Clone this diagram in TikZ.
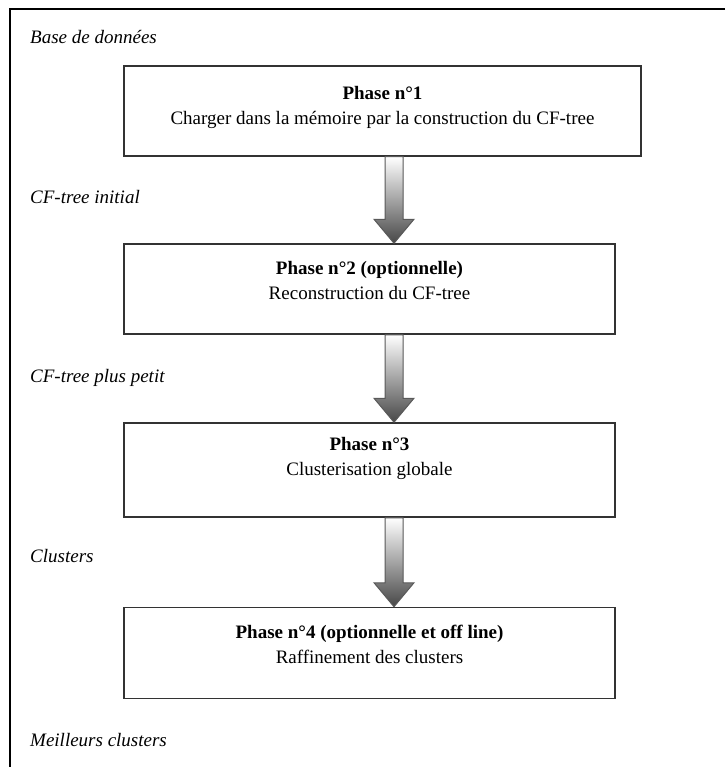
\documentclass[tikz,border=0pt]{standalone}
\usepackage{fontspec}
\setmainfont{Liberation Serif}
\usetikzlibrary{calc}

\begin{document}
\begin{tikzpicture}[x=1pt,y=-1pt]
\tikzset{
  phasebox/.style={draw=black!80,line width=1.5pt,minimum height=#1,inner sep=0pt},
  phasetext/.style={align=center,font=\fontsize{19}{25}\selectfont},
  datalabel/.style={anchor=west,inner sep=0pt,font=\fontsize{19}{23}\selectfont\itshape},
  blockarrow/.style={draw=black!65,line width=1pt,top color=white,bottom color=black!72}
}
\useasboundingbox (0,0) rectangle (725,767);
\draw[line width=2.5pt] (725,9) -- (10,9) -- (10,767);

	\coordinate (ax) at (394,0);

% les quatre phases
\node[phasebox=90pt,minimum width=517pt] (b1) at (382.5,111) {};
\node[phasebox=90pt,minimum width=491pt] (b2) at (369.5,289) {};
\node[phasebox=94pt,minimum width=491pt] (b3) at (369.5,470) {};
\node[phasebox=91pt,minimum width=491pt] (b4) at (369.5,653) {};

\node[phasetext] (t1) at ([yshift=4pt]b1.center) {\textbf{Phase n°1}\\Charger dans la mémoire par la construction du CF-tree};
\node[phasetext] (t2) at ([yshift=9pt]b2.center) {\textbf{Phase n°2 (optionnelle)}\\Reconstruction du CF-tree};
\node[phasetext] (t3) at ([yshift=12pt]b3.center) {\textbf{Phase n°3}\\Clusterisation globale};
\node[phasetext] (t4) at ([yshift=9pt]b4.center) {\textbf{Phase n°4 (optionnelle et off line)}\\Raffinement des clusters};

% les donnees entre les phases
\node[datalabel] (d0) at (30,37) {Base de données};
\node[datalabel] (d1) at (30,197) {CF-tree initial};
\node[datalabel] (d2) at (30,378) {CF-tree plus petit};
\node[datalabel] (d3) at (30,556) {Clusters};
\node[datalabel] (d4) at (30,740) {Meilleurs clusters};

\foreach \a/\b in {1/2,2/3,3/4}
\path[blockarrow] ($(ax |- b\a.south)+(-9,0)$) -- ($(ax |- b\b.north)+(-9,-24)$)
  -- ($(ax |- b\b.north)+(-20,-24)$) -- (ax |- b\b.north)
  -- ($(ax |- b\b.north)+(20,-24)$) -- ($(ax |- b\b.north)+(9,-24)$)
  -- ($(ax |- b\a.south)+(9,0)$) -- cycle;

\end{tikzpicture}
\end{document}
